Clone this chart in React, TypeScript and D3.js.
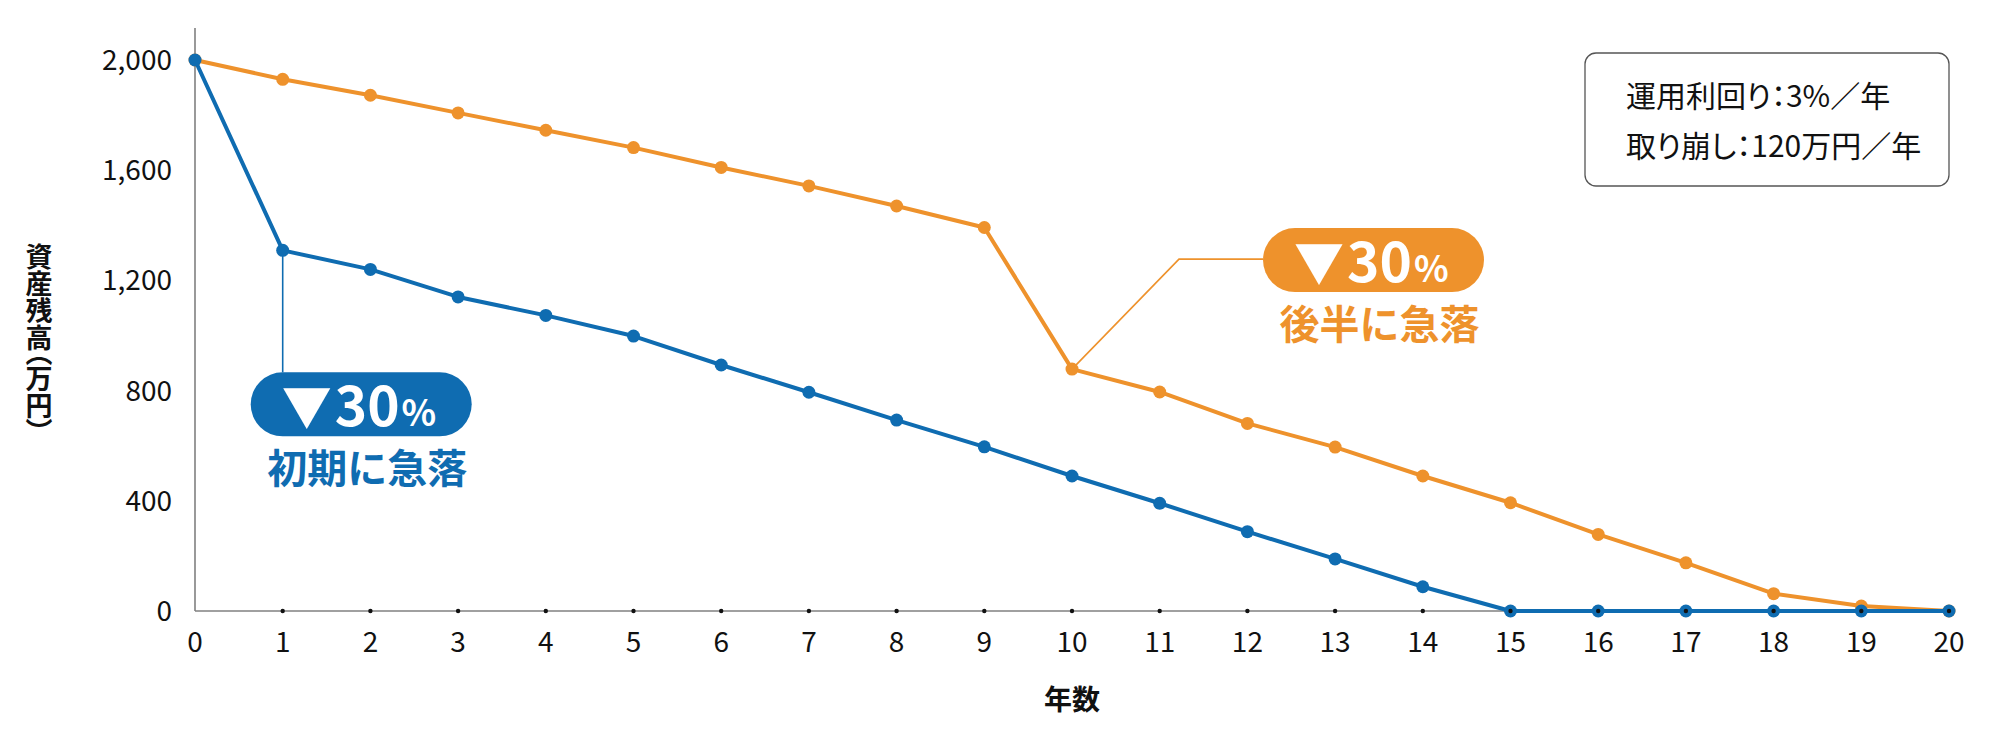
import { line, scaleLinear } from "d3";

const years = Array.from({ length: 21 }, (_, i) => i);
const yTicks = [0, 400, 800, 1200, 1600, 2000];

// 後半に急落
const lateDrop = [
  2000, 1930, 1872, 1808, 1745, 1682, 1610, 1543, 1470, 1392, 878, 795, 681,
  595, 490, 393, 278, 175, 63, 18, 0,
];
// 初期に急落
const earlyDrop = [
  2000, 1309, 1240, 1140, 1073, 998, 893, 794, 693, 596, 490, 391, 288, 189,
  88, 0, 0, 0, 0, 0, 0,
];

const infoLines = ["運用利回り：3%／年", "取り崩し：120万円／年"];

const BLUE = "#0f6cb1";
const ORANGE = "#ee922c";
const FONT = "'Noto Sans CJK JP', 'Noto Sans', sans-serif";

const W = 2000;
const H = 730;
const margin = { left: 195, right: 51, top: 60, bottom: 119 };

const x = scaleLinear()
  .domain([0, 20])
  .range([margin.left, W - margin.right]);
const y = scaleLinear()
  .domain([0, 2000])
  .range([H - margin.bottom, margin.top]);

const path = line<number>()
  .x((_, i) => x(i))
  .y((d) => y(d));

type Callout = {
  values: number[];
  year: number;
  color: string;
  label: string;
  pillX: number;
  pillY: number;
  elbow?: [number, number];
};

const callouts: Callout[] = [
  { values: earlyDrop, year: 1, color: BLUE, label: "初期に急落", pillX: -32, pillY: 122 },
  {
    values: lateDrop,
    year: 10,
    color: ORANGE,
    label: "後半に急落",
    pillX: 191,
    pillY: -141,
    elbow: [107, -110],
  },
];

const pillW = 221;
const pillH = 64;

function CalloutMark({ c }: { c: Callout }) {
  const px = x(c.year);
  const py = y(c.values[c.year]);
  const bx = px + c.pillX;
  const by = py + c.pillY;
  const leader = c.elbow
    ? `M${px},${py}L${px + c.elbow[0]},${py + c.elbow[1]}L${bx},${py + c.elbow[1]}`
    : `M${px},${py}L${px},${by}`;
  return (
    <g>
      <path d={leader} fill="none" stroke={c.color} strokeWidth={1.6} />
      <rect x={bx} y={by} width={pillW} height={pillH} rx={pillH / 2} fill={c.color} />
      <text x={bx + 31} y={by + 54} fill="#fff" fontWeight={700} fontFamily={FONT} fontSize={50}>
        ▼
      </text>
      <text x={bx + 84} y={by + 54} fill="#fff" fontWeight={700} fontFamily={FONT}>
        <tspan fontSize={55}>30</tspan>
        <tspan fontSize={36} dx={2}>%</tspan>
      </text>
      <text
        x={bx + pillW / 2 + 6}
        y={by + 111}
        textAnchor="middle"
        fill={c.color}
        fontWeight={700}
        fontSize={40}
        fontFamily={FONT}
      >
        {c.label}
      </text>
    </g>
  );
}

export default function App() {
  const y0 = y(0);
  return (
    <svg
      width={W}
      height={H}
      style={{ position: "absolute", left: 0, top: 0, background: "#fff" }}
      fontFamily={FONT}
    >
      {/* axes */}
      <line x1={x(0)} x2={x(0)} y1={28} y2={y0} stroke="#808080" strokeWidth={1.6} />
      <line x1={x(0)} x2={x(20)} y1={y0} y2={y0} stroke="#808080" strokeWidth={1.6} />

      {yTicks.map((t) => (
        <text
          key={t}
          x={x(0) - 23}
          y={y(t)}
          dy="0.36em"
          textAnchor="end"
          fontSize={28}
          fill="#111"
        >
          {t.toLocaleString("en-US")}
        </text>
      ))}
      {years.map((yr) => (
        <text key={yr} x={x(yr)} y={y0 + 41} textAnchor="middle" fontSize={28} fill="#111">
          {yr}
        </text>
      ))}

      <text
        x={39}
        y={338}
        textAnchor="middle"
        fontSize={27}
        fontWeight={700}
        fill="#111"
        style={{ writingMode: "vertical-rl", fontFeatureSettings: '"vpal"' }}
      >
        資産残高（万円）
      </text>
      <text x={x(10)} y={710} textAnchor="middle" fontSize={28} fontWeight={700} fill="#111">
        年数
      </text>

      {/* callouts behind lines */}
      {callouts.map((c) => (
        <CalloutMark key={c.label} c={c} />
      ))}

      {/* series */}
      {[
        { values: lateDrop, color: ORANGE },
        { values: earlyDrop, color: BLUE },
      ].map((s) => (
        <g key={s.color}>
          <path d={path(s.values)!} fill="none" stroke={s.color} strokeWidth={4} strokeLinejoin="round" />
          {s.values.map((v, i) => (
            <circle key={i} cx={x(i)} cy={y(v)} r={6.5} fill={s.color} />
          ))}
        </g>
      ))}

      {/* tick dots */}
      {years.slice(1).map((yr) => (
        <circle key={yr} cx={x(yr)} cy={y0} r={2.2} fill="#111" />
      ))}

      {/* info box */}
      <rect x={1585} y={53} width={364} height={133} rx={11} fill="#fff" stroke="#555" strokeWidth={1.3} />
      {infoLines.map((t, i) => (
        <text
          key={t}
          x={1626}
          y={107 + i * 50}
          fontSize={30}
          fill="#111"
          style={{ fontFeatureSettings: '"palt"' }}
        >
          {t}
        </text>
      ))}
    </svg>
  );
}
